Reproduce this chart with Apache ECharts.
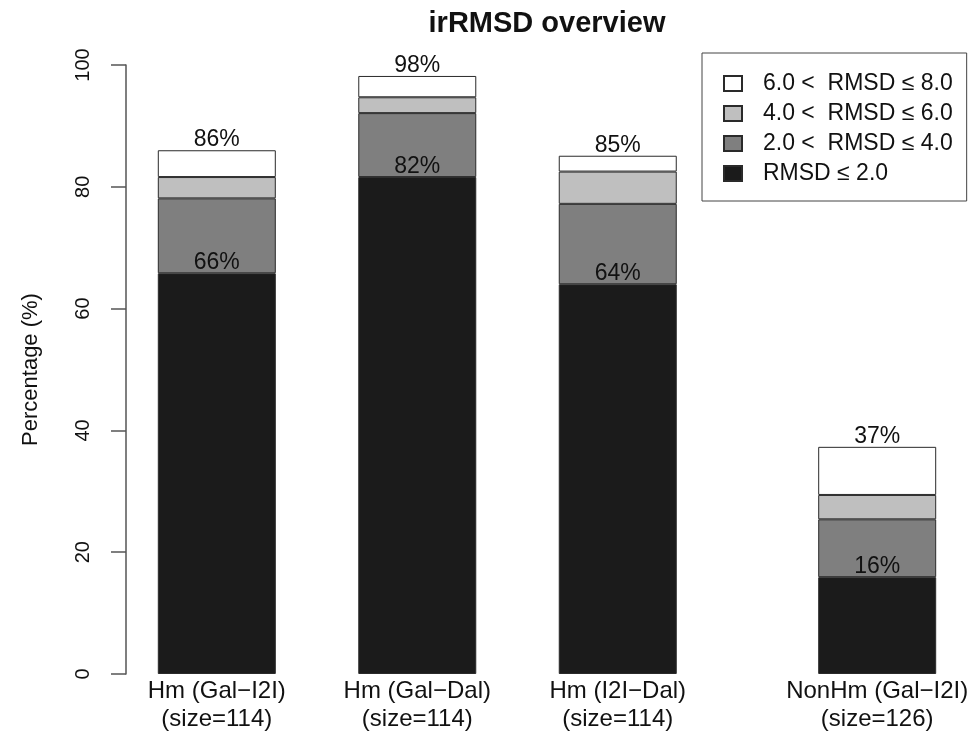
<!DOCTYPE html>
<html>
<head>
<meta charset="utf-8">
<script src="https://cdn.jsdelivr.net/npm/echarts@6/dist/echarts.min.js"></script>
<style>
  html, body { margin: 0; padding: 0; background: #ffffff; }
  #chart { width: 968px; height: 733px; }
</style>
</head>
<body>
<div id="chart"></div>
<script>
// ---- data ----
const categories = ['Hm (Gal\u2212I2I)', 'Hm (Gal\u2212Dal)', 'Hm (I2I\u2212Dal)', 'NonHm (Gal\u2212I2I)'];
const sizes = ['(size=114)', '(size=114)', '(size=114)', '(size=126)'];
const barPositions = [1.2, 2.9, 4.6, 6.8];          // bar centres (R barplot units)
const seriesNames = ['RMSD \u2264 2.0', '2.0 <  RMSD \u2264 4.0', '4.0 <  RMSD \u2264 6.0', '6.0 <  RMSD \u2264 8.0'];
const rmsd2 = [65.8, 81.6, 64.0, 15.9];   // RMSD <= 2.0
const rmsd4 = [12.3, 10.5, 13.2, 9.5];    // 2.0 < RMSD <= 4.0
const rmsd6 = [3.5, 2.6, 5.3, 4.0];       // 4.0 < RMSD <= 6.0
const rmsd8 = [4.4, 3.5, 2.6, 7.9];       // 6.0 < RMSD <= 8.0
const lowLabels = ['66%', '82%', '64%', '16%'];
const totalLabels = ['86%', '98%', '85%', '37%'];
const yTicks = [0, 20, 40, 60, 80, 100];

// ---- styles ----
const fills = ['#1b1b1b', '#7f7f7f', '#bfbfbf', '#ffffff'];
const FONT = '"Liberation Sans", Arial, Helvetica, sans-serif';
const TXT = '#111111';

const values = [rmsd2, rmsd4, rmsd6, rmsd8];

const series = values.map((vals, k) => {
  const s = {
    name: seriesNames[k],
    type: 'bar',
    stack: 'total',
    barWidth: 118,
    // value first so the stacked dimension is the y value
    data: vals.map((v, i) => [v, barPositions[i]]),
    encode: { x: 1, y: 0 },
    itemStyle: { color: fills[k], borderColor: '#2a2a2a', borderWidth: 1 },
    emphasis: { disabled: true },
    animation: false
  };
  if (k === 0 || k === 3) {
    const texts = k === 0 ? lowLabels : totalLabels;
    s.label = {
      show: true,
      position: 'top',
      distance: -1,
      fontFamily: FONT,
      fontSize: 23,
      color: TXT,
      formatter: p => texts[p.dataIndex]
    };
  }
  return s;
});

const chart = echarts.init(document.getElementById('chart'), null, { renderer: 'canvas' });
chart.setOption({
  backgroundColor: '#ffffff',
  animation: false,
  title: {
    text: 'irRMSD overview',
    left: 547,
    textAlign: 'center',
    top: 9,
    padding: 0,
    textStyle: { fontFamily: FONT, fontSize: 29, fontWeight: 'bold', color: TXT }
  },
  legend: {
    orient: 'vertical',
    left: 702,
    top: 53,
    padding: [19, 14, 16, 21],
    itemGap: 7,
    itemWidth: 18,
    itemHeight: 15,
    icon: 'rect',
    borderColor: '#444444',
    borderWidth: 1,
    selectedMode: false,
    data: [seriesNames[3], seriesNames[2], seriesNames[1], seriesNames[0]],
    textStyle: { fontFamily: FONT, fontSize: 23, color: TXT, lineHeight: 22, padding: [0, 0, 0, 16] }
  },
  grid: { left: 126, right: 0, top: 65, bottom: 59, containLabel: false, outerBoundsMode: 'none' },
  xAxis: {
    type: 'value',
    min: 0.43,
    max: 7.57,
    axisLine: { show: false },
    axisTick: { show: false },
    splitLine: { show: false },
    axisLabel: {
      customValues: barPositions,
      margin: 3,
      fontFamily: FONT,
      fontSize: 24,
      lineHeight: 28,
      color: TXT,
      formatter: v => {
        const i = barPositions.indexOf(v);
        return i >= 0 ? categories[i] + '\n' + sizes[i] : '';
      }
    }
  },
  yAxis: {
    type: 'value',
    min: 0,
    max: 100,
    interval: 20,
    name: 'Percentage (%)',
    nameLocation: 'middle',
    nameGap: 84,
    nameTextStyle: { fontFamily: FONT, fontSize: 22, color: TXT },
    axisLine: { show: true, lineStyle: { color: '#555555', width: 1.5 } },
    axisTick: { show: true, length: 15, lineStyle: { color: '#555555', width: 1.5 } },
    splitLine: { show: false },
    axisLabel: {
      rotate: 90,
      margin: 33,
      fontFamily: FONT,
      fontSize: 20,
      color: TXT,
      formatter: v => (yTicks.indexOf(v) >= 0 ? String(v) : '')
    }
  },
  series: series
});
</script>
</body>
</html>
